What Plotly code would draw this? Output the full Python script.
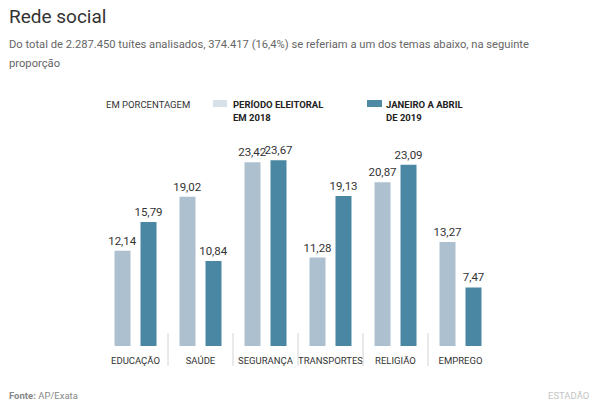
import plotly.graph_objects as go

categories = ["EDUCAÇÃO", "SAÚDE", "SEGURANÇA", "TRANSPORTES", "RELIGIÃO", "EMPREGO"]
periodo_2018 = [12.14, 19.02, 23.42, 11.28, 20.87, 13.27]
jan_abr_2019 = [15.79, 10.84, 23.67, 19.13, 23.09, 7.47]
series_names = ["PERÍODO ELEITORAL<br>EM 2018", "JANEIRO A ABRIL<br>DE 2019"]

LIGHT = "#adc0cf"
DARK = "#4a87a2"
FONT = "Roboto, sans-serif"

W, H = 600, 417
ML, MR, MT, MB = 103, 107, 142, 71
PW, PH = W - ML - MR, H - MT - MB


def px(x):
    return (x - ML) / PW


def py(y):
    return (H - MB - y) / PH


def fmt(v):
    return f"{v:.2f}".replace(".", ",")


x_idx = list(range(len(categories)))

fig = go.Figure()
for vals, color, name in [(periodo_2018, LIGHT, series_names[0]), (jan_abr_2019, DARK, series_names[1])]:
    fig.add_trace(go.Bar(
        x=x_idx, y=vals, name=name, marker=dict(color=color, line=dict(width=0)),
        text=[fmt(v) for v in vals], textposition="outside", constraintext="none",
        cliponaxis=False, textfont=dict(family=FONT, size=11.5, color="#333333"),
        showlegend=False, hoverinfo="skip",
    ))

shapes = []
for i in range(len(categories) - 1):
    shapes.append(dict(type="line", xref="x", yref="paper", x0=i + 0.5, x1=i + 0.5,
                       y0=py(366), y1=py(333), line=dict(color="#d4d4d4", width=1)))
# legend swatches
shapes.append(dict(type="rect", xref="paper", yref="paper", x0=px(213), x1=px(227),
                   y0=py(107), y1=py(100), fillcolor="#d8e0e7", line=dict(width=0)))
shapes.append(dict(type="rect", xref="paper", yref="paper", x0=px(367), x1=px(382),
                   y0=py(107), y1=py(100), fillcolor="#4f8aa5", line=dict(width=0)))

annotations = [
    dict(text="Rede social", x=px(7), y=py(16), xanchor="left", yanchor="middle",
         font=dict(family=FONT, size=19, color="#333333")),
    dict(text="Do total de 2.287.450 tuítes analisados, 374.417 (16,4%) se referiam a um dos temas abaixo, na seguinte",
         x=px(7), y=py(45), xanchor="left", yanchor="middle",
         font=dict(family=FONT, size=11.2, color="#666666")),
    dict(text="proporção", x=px(7), y=py(63), xanchor="left", yanchor="middle",
         font=dict(family=FONT, size=11.2, color="#666666")),
    dict(text="EM PORCENTAGEM", x=px(104), y=py(104), xanchor="left", yanchor="middle",
         font=dict(family=FONT, size=9.5, color="#333333")),
    dict(text="<b>PERÍODO ELEITORAL</b>", x=px(231), y=py(104), xanchor="left", yanchor="middle",
         font=dict(family=FONT, size=9.5, color="#222222")),
    dict(text="<b>EM 2018</b>", x=px(231), y=py(117), xanchor="left", yanchor="middle",
         font=dict(family=FONT, size=9.5, color="#222222")),
    dict(text="<b>JANEIRO A ABRIL</b>", x=px(384), y=py(104), xanchor="left", yanchor="middle",
         font=dict(family=FONT, size=9.5, color="#222222")),
    dict(text="<b>DE 2019</b>", x=px(384), y=py(117), xanchor="left", yanchor="middle",
         font=dict(family=FONT, size=9.5, color="#222222")),
    dict(text="<b>Fonte:</b> AP/Exata", x=px(7), y=py(395), xanchor="left", yanchor="middle",
         font=dict(family=FONT, size=9.5, color="#888888")),
    dict(text="ESTADÃO", x=px(591), y=py(395), xanchor="right", yanchor="middle",
         font=dict(family=FONT, size=9.5, color="#c4c4c4")),
]
for a in annotations:
    a.update(xref="paper", yref="paper", showarrow=False)

fig.update_layout(
    width=W, height=H, margin=dict(l=ML, r=MR, t=MT, b=MB, pad=0),
    paper_bgcolor="white", plot_bgcolor="white",
    barmode="group", bargap=0.2, bargroupgap=0.385,
    shapes=shapes, annotations=annotations,
    xaxis=dict(tickmode="array", tickvals=x_idx, ticktext=categories, range=[-0.5, 5.5],
               showgrid=False, zeroline=False, showline=False, ticks="outside", ticklen=6,
               tickangle=0, tickcolor="rgba(0,0,0,0)",
               tickfont=dict(family=FONT, size=9.5, color="#333333"),
               fixedrange=True),
    yaxis=dict(range=[0, 26], visible=False, fixedrange=True),
    font=dict(family=FONT),
)

fig.write_html("out.html")
